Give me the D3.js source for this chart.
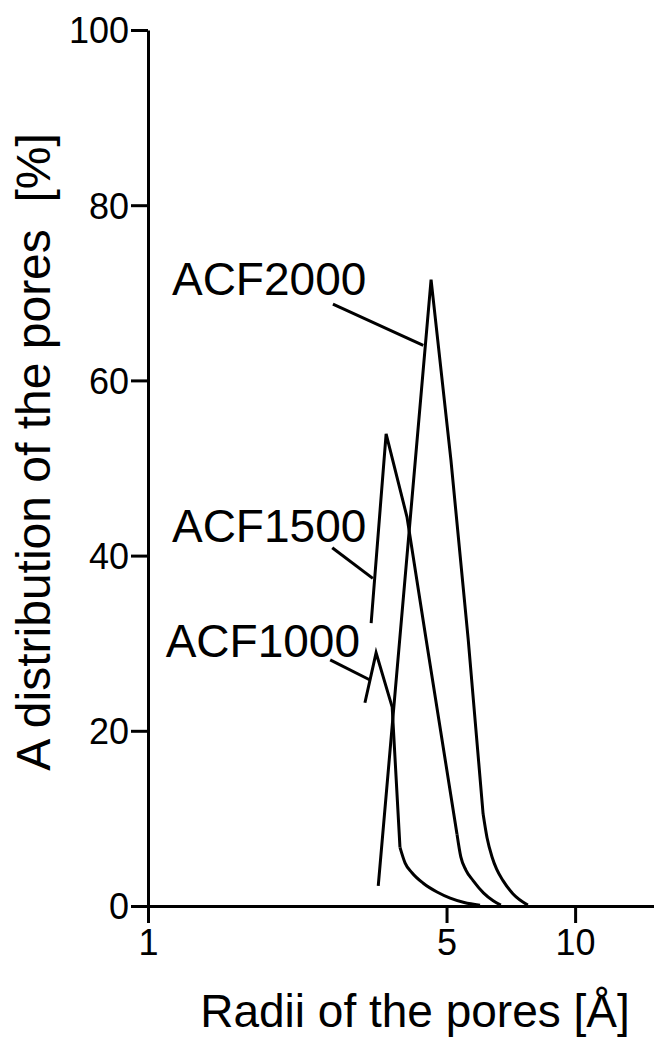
<!DOCTYPE html>
<html>
<head>
<meta charset="utf-8">
<script src="https://cdn.jsdelivr.net/npm/d3@7"></script>
<style>
  body { margin: 0; background: #fff; }
  svg { display: block; }
  text { font-family: "Liberation Sans", Arial, Helvetica, sans-serif; fill: #000; }
</style>
</head>
<body>
<script>
// Pore radius distribution for the three activated carbon fibres
// (radius in angstrom, share in %), the knee is where the tail starts
const acf1000 = [
  [3.22, 23.2], [3.42, 28.9], [3.73, 22.7], [3.89, 6.7], [4.00, 4.9],
  [4.15, 3.8], [4.41, 2.6], [4.75, 1.6], [5.10, 0.9], [5.50, 0.4], [5.99, 0.1]
];
const acf1500 = [
  [3.33, 32.3], [3.61, 53.9], [4.04, 44.4], [4.48, 30.4], [5.29, 8.2],
  [5.40, 5.6], [5.55, 4.1], [5.77, 2.9], [6.10, 1.5], [6.43, 0.6], [6.70, 0.1]
];
const acf2000 = [
  [3.46, 2.3], [4.60, 71.5], [5.12, 50.9], [5.62, 30.4], [6.09, 10.5],
  [6.22, 7.8], [6.39, 5.6], [6.55, 4.2], [6.78, 2.9], [7.15, 1.4], [7.75, 0.1]
];
const kneeIndex = [3, 4, 4];

const series = [
  {name: "ACF1000", values: acf1000, knee: kneeIndex[0]},
  {name: "ACF1500", values: acf1500, knee: kneeIndex[1]},
  {name: "ACF2000", values: acf2000, knee: kneeIndex[2]}
];

// label text anchor and leader line, in data units
const labels = [
  {name: "ACF2000", text: [1.138, 69.7], from: [2.71, 68.7], to: [4.41, 64.0]},
  {name: "ACF1500", text: [1.138, 41.6], from: [2.70, 40.9], to: [3.36, 37.4]},
  {name: "ACF1000", text: [1.10, 28.4], from: [2.67, 28.1], to: [3.31, 25.8]}
];

const xTicks = [1, 5, 10];
const yTicks = [0, 20, 40, 60, 80, 100];

const width = 654, height = 1047;
const x0 = 148, y0 = 906, yTop = 30;

const svg = d3.select("body").append("svg")
  .attr("width", width)
  .attr("height", height);

const x = d3.scaleLog().domain([1, 15.3]).range([x0, width]);
const y = d3.scaleLinear().domain([0, 100]).range([y0, yTop]);

// x axis, ticks pointing down
const xAxis = svg.append("g")
  .attr("transform", `translate(0,${y0})`)
  .call(d3.axisBottom(x).tickValues(xTicks).tickFormat(d3.format("d"))
    .tickSize(17).tickSizeOuter(0).tickPadding(5));

// y axis, ticks pointing left
const yAxis = svg.append("g")
  .attr("transform", `translate(${x0},0)`)
  .call(d3.axisLeft(y).tickValues(yTicks).tickSize(17).tickSizeOuter(0).tickPadding(2));

svg.selectAll(".domain").attr("stroke", "#000").attr("stroke-width", 3);
svg.selectAll(".tick line").attr("stroke", "#000").attr("stroke-width", 3);
svg.selectAll(".tick text")
  .attr("font-size", 36)
  .attr("font-family", "\"Liberation Sans\", Arial, sans-serif")
  .attr("fill", "#000");
xAxis.selectAll(".tick text").attr("dy", "0.76em");
yAxis.selectAll(".tick text").attr("dy", "0.36em");

// straight part up to the knee, then a smooth tail down to zero
const straight = d3.line()
  .x(d => x(d[0]))
  .y(d => y(d[1]))
  .curve(d3.curveLinear);
const tail = d3.line()
  .x(d => x(d[0]))
  .y(d => y(d[1]))
  .curve(d3.curveMonotoneX);

const curves = svg.append("g").selectAll("g")
  .data(series)
  .join("g");

curves.append("path")
  .attr("d", d => straight(d.values.slice(0, d.knee + 1)));
curves.append("path")
  .attr("d", d => tail(d.values.slice(d.knee)));

curves.selectAll("path")
  .attr("fill", "none")
  .attr("stroke", "#000")
  .attr("stroke-width", 3)
  .attr("stroke-linejoin", "miter");

// labels with leader lines
const lab = svg.append("g").selectAll("g")
  .data(labels)
  .join("g");

lab.append("text")
  .attr("x", d => x(d.text[0]))
  .attr("y", d => y(d.text[1]))
  .attr("font-size", 46)
  .text(d => d.name);

lab.append("line")
  .attr("x1", d => x(d.from[0]))
  .attr("y1", d => y(d.from[1]))
  .attr("x2", d => x(d.to[0]))
  .attr("y2", d => y(d.to[1]))
  .attr("stroke", "#000")
  .attr("stroke-width", 3);

// axis titles
svg.append("text")
  .attr("x", 415)
  .attr("y", 1027)
  .attr("text-anchor", "middle")
  .attr("font-size", 46)
  .text("Radii of the pores [\u00C5]");

svg.append("text")
  .attr("transform", "translate(50,452) rotate(-90)")
  .attr("text-anchor", "middle")
  .attr("font-size", 48)
  .style("white-space", "pre")
  .text("A distribution of the pores  [%]");
</script>
</body>
</html>
